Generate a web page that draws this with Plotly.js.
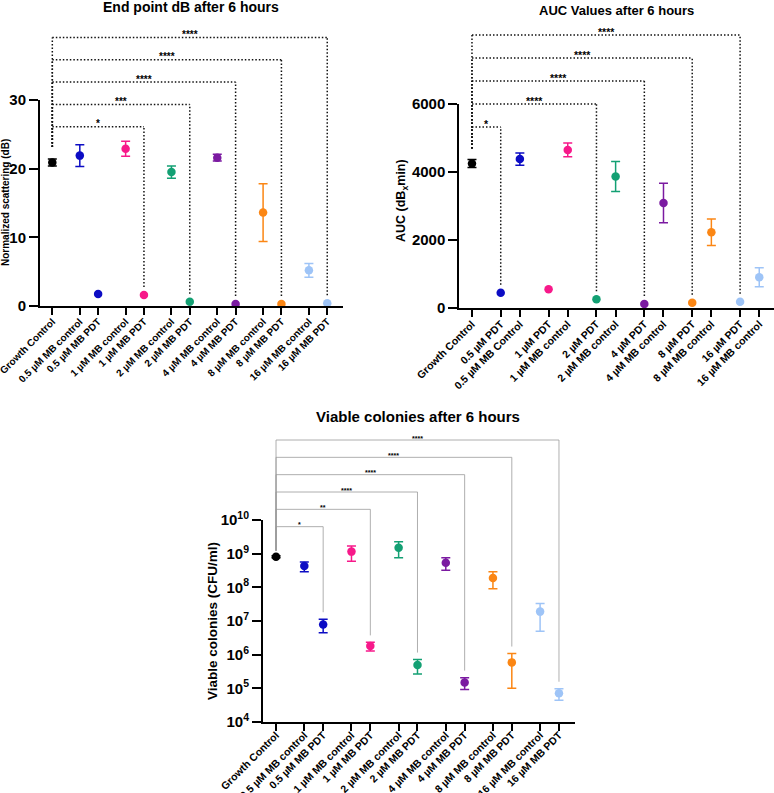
<!DOCTYPE html>
<html><head><meta charset="utf-8">
<script src="https://cdn.plot.ly/plotly-3.0.1.min.js"></script>
<style>html,body{margin:0;padding:0;background:#fff}#chart{width:774px;height:793px}</style>
</head><body><div id="chart"></div>
<script>
// ---------- DATA ----------
const dbLabels = ["Growth Control","0.5 µM MB control","0.5 µM MB PDT","1 µM MB control","1 µM MB PDT","2 µM MB control","2 µM MB PDT","4 µM MB control","4 µM MB PDT","8 µM MB control","8 µM MB PDT","16 µM MB control","16 µM MB PDT"];
const dbMean = [20.9, 21.9, 1.75, 22.9, 1.6, 19.5, 0.63, 21.6, 0.3, 13.6, 0.3, 5.2, 0.4];
const dbSD   = [0.5, 1.6, 0, 1.1, 0, 0.9, 0, 0.5, 0, 4.2, 0, 1.0, 0];
const dbGroups = [0,1,1,2,2,3,3,4,4,5,5,6,6];
const dbStats = [[4,"*"],[6,"***"],[8,"****"],[10,"****"],[12,"****"]];

const aucLabels = ["Growth Control","0.5 µM PDT","0.5 µM MB Control","1 µM PDT","1 µM MB control","2 µM PDT","2 µM MB control","4 µM PDT","4 µM MB control","8 µM PDT","8 µM MB control","16 µM PDT","16 µM MB control"];
const aucMean = [4250, 450, 4380, 550, 4650, 255, 3870, 118, 3090, 157, 2230, 186, 905];
const aucSD   = [120, 0, 180, 0, 200, 0, 440, 0, 580, 0, 390, 0, 280];
const aucGroups = [0,1,1,2,2,3,3,4,4,5,5,6,6];
const aucStats = [[1,"*"],[5,"****"],[7,"****"],[9,"****"],[11,"****"]];

const cfuLabels = ["Growth Control","0.5 µM MB control","0.5 µM MB PDT","1 µM MB control","1 µM MB PDT","2 µM MB control","2 µM MB PDT","4 µM MB control","4 µM MB PDT","8 µM MB control","8 µM MB PDT","16 µM MB control","16 µM MB PDT"];
const cfuMean = [8.1e8, 4.3e8, 7.9e6, 1.15e9, 1.8e6, 1.5e9, 4.9e5, 5.4e8, 1.5e5, 1.9e8, 5.9e5, 1.9e7, 7.1e4];
const cfuSD   = [0.6e8, 1.4e8, 3.4e6, 5.5e8, 5.2e5, 7.5e8, 2.25e5, 2.2e8, 5.8e4, 1.0e8, 4.9e5, 1.4e7, 2.65e4];
const cfuGroups = [0,1,1,2,2,3,3,4,4,5,5,6,6];
const cfuStats = [[2,"*"],[4,"**"],[6,"****"],[8,"****"],[10,"****"],[12,"****"]];
const cfuTickVals = [1e4,1e5,1e6,1e7,1e8,1e9,1e10];
const cfuTickText = ["10<sup>4</sup>","10<sup>5</sup>","10<sup>6</sup>","10<sup>7</sup>","10<sup>8</sup>","10<sup>9</sup>","10<sup>10</sup>"];

// ---------- STYLE / LAYOUT ----------
const W = 774, H = 793;
const FONT = "Liberation Sans, Arial, sans-serif";
const groupColors = ['#000000','#0c0cc4','#f7198a','#13a073','#7b1aa1','#fb8614','#9ec4f7'];

// category position: groups separated by an extra half-step
function catPos(i){ return i === 0 ? 0 : 1.5 + (i-1) + 0.5*Math.floor((i-1)/2); }

const panels = [
  {xa:'x', ya:'y', px:[40,343], py:[100,306], xr:[-0.672,15.86], yr:[0,30], log:false,
   labels:dbLabels, mean:dbMean, sd:dbSD, groups:dbGroups, stats:dbStats,
   yticks:[0,10,20,30], ytext:null, xfont:10, yfont:15, xstand:-3,
   base:0.870, step:0.1085, gapL:12, gapR:8, starFont:10, starShift:3,
   line:{color:'#111', width:1.5, dash:'1.5px,2px'}},
  {xa:'x2', ya:'y2', px:[459.3,774], py:[104,308], xr:[-0.662,15.77], yr:[0,6000], log:false,
   labels:aucLabels, mean:aucMean, sd:aucSD, groups:aucGroups, stats:aucStats,
   yticks:[0,2000,4000,6000], ytext:null, xfont:10.5, yfont:15, xstand:-3,
   base:0.887, step:0.1127, gapL:11, gapR:8, starFont:10.5, starShift:3,
   line:{color:'#111', width:1.5, dash:'1.5px,2px'}},
  {xa:'x3', ya:'y3', px:[263,575], py:[520,722], xr:[-0.69,15.85], yr:[4,10], log:true,
   labels:cfuLabels, mean:cfuMean, sd:cfuSD, groups:cfuGroups, stats:cfuStats,
   yticks:cfuTickVals, ytext:cfuTickText, xfont:10.5, yfont:15, xstand:-6,
   base:0.967, step:0.0858, gapL:5, gapR:7, starFont:7, starShift:2,
   line:{color:'#9a9a9a', width:0.8}}
];

function frac(p, v){
  const t = p.log ? Math.log10(v) : v;
  return (t - p.yr[0])/(p.yr[1]-p.yr[0]);
}

const traces = [], shapes = [], annotations = [];
const layout = {
  width: W, height: H, margin:{l:0,r:0,t:0,b:0},
  paper_bgcolor:'#fff', plot_bgcolor:'rgba(0,0,0,0)', showlegend:false,
  font:{family:FONT, color:'#000'}
};

panels.forEach((p, k) => {
  const sfx = k === 0 ? '' : String(k+1);
  const pos = p.labels.map((_, i) => catPos(i));
  const axCommon = {showline:true, linewidth:2, linecolor:'#000', ticks:'outside', tickwidth:2,
    tickcolor:'#000', showgrid:false, zeroline:false, fixedrange:true, mirror:false,
    ticklabeloverflow:'allow'};
  layout['xaxis'+sfx] = Object.assign({}, axCommon, {
    domain:[p.px[0]/W, p.px[1]/W], range:p.xr, anchor:p.ya,
    tickmode:'array', tickvals:pos, ticktext:p.labels, tickangle:-45, ticklen:7,
    ticklabelstandoff:p.xstand,
    tickfont:{family:FONT, size:p.xfont, weight:'bold', color:'#000'}
  });
  const ya = Object.assign({}, axCommon, {
    domain:[1-p.py[1]/H, 1-p.py[0]/H], range:p.yr, anchor:p.xa, ticklen:9,
    tickmode:'array', tickvals:p.yticks,
    tickfont:{family:FONT, size:p.yfont, weight:'bold', color:'#000'}
  });
  if (p.log) { ya.type = 'log'; ya.ticktext = p.ytext; }
  layout['yaxis'+sfx] = ya;

  p.mean.forEach((m, i) => {
    const c = groupColors[p.groups[i]];
    traces.push({
      type:'scatter', mode:'markers', x:[pos[i]], y:[m], xaxis:p.xa, yaxis:p.ya,
      cliponaxis:false, hoverinfo:'skip',
      marker:{color:c, size:8.5, line:{width:0}},
      error_y:{type:'data', array:[p.sd[i]], visible:p.sd[i] > 0, color:c, thickness:1.5, width:4.5}
    });
  });

  const hpx = p.py[1]-p.py[0];
  const leftBottom = frac(p, p.mean[0]+p.sd[0]) + p.gapL/hpx;
  p.stats.forEach(([t, stars], lvl) => {
    const yl = p.base + p.step*lvl;
    const rightBottom = frac(p, p.mean[t]+p.sd[t]) + p.gapR/hpx;
    const common = {type:'line', xref:p.xa, yref:p.ya+' domain', line:p.line, layer:'above'};
    shapes.push(Object.assign({x0:pos[0], x1:pos[0], y0:leftBottom, y1:yl}, common));
    shapes.push(Object.assign({x0:pos[0], x1:pos[t], y0:yl, y1:yl}, common));
    shapes.push(Object.assign({x0:pos[t], x1:pos[t], y0:rightBottom, y1:yl}, common));
    annotations.push({xref:p.xa, yref:p.ya+' domain', x:(pos[0]+pos[t])/2, y:yl,
      text:stars, showarrow:false, yanchor:'middle', yshift:p.starShift,
      font:{family:FONT, size:p.starFont, weight:'bold', color:'#000'}});
  });
});

function ann(text, px, py, size, angle){
  annotations.push({xref:'paper', yref:'paper', x:px/W, y:1-py/H, text:text, showarrow:false,
    xanchor:'center', yanchor:'middle', textangle:angle||0,
    font:{family:FONT, size:size, weight:'bold', color:'#000'}});
}
ann("End point dB after 6 hours", 191, 7, 14);
ann("AUC Values after 6 hours", 616, 10, 13);
ann("Viable colonies after 6 hours", 418, 417, 15);
ann("Normalized scattering (dB)", 5, 203, 10, -90);
ann("AUC (dB<sub>x</sub>min)", 402, 201, 12.5, -90);
ann("Viable colonies (CFU/ml)", 212, 621, 13.5, -90);

layout.shapes = shapes;
layout.annotations = annotations;
Plotly.newPlot('chart', traces, layout, {displayModeBar:false, staticPlot:true});
</script></body></html>
